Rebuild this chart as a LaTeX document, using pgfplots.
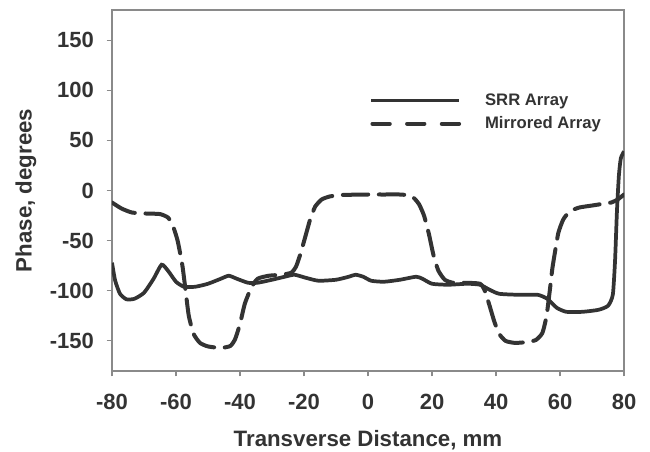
\documentclass[border=0pt]{standalone}
\usepackage{pgfplots}
\pgfplotsset{compat=1.18}
\usepackage{fontspec}
\setmainfont{Liberation Sans}

\definecolor{curve}{HTML}{333333}
\definecolor{frame}{HTML}{8A8A8A}
\definecolor{txt}{HTML}{333333}

% SRR array phase profile
\pgfplotstableread{
x y
-80 -72
-79 -90
-77.5 -103
-75.5 -108.5
-73 -108
-70 -102
-67 -88
-64.5 -74
-62.5 -80
-60 -91
-57.5 -96
-54 -96
-50 -93
-46 -88
-43.5 -85
-41 -88
-37.5 -92
-34.5 -92
-30 -89
-26 -86
-23 -84
-19.5 -87
-15.5 -90
-10 -89
-6 -86
-3.9 -84
-1.5 -86
1 -90
5 -91
10 -89
15 -86
17 -88
20 -93
25 -94
31 -93
35 -94
38 -99
41 -103
47 -104
53 -104
56 -108
59 -117
62 -121
67 -121
72 -119
75 -115
76.5 -104
77.2 -70
77.8 -20
78.4 15
79 32
80 39
}\srr

% Mirrored array phase profile
\pgfplotstableread{
x y
-80 -12
-77 -18
-73.7 -22
-69 -23
-65 -23.5
-62.5 -27
-61 -35
-59.5 -50
-58 -75
-57 -100
-56 -125
-54.5 -143
-52.5 -152
-50 -155.5
-46 -157
-43 -155
-41.5 -148
-40 -133
-38.5 -113
-36.5 -97
-34.5 -88
-31 -85
-27 -84
-24 -82
-22.5 -76
-21 -62
-19.5 -45
-18 -28
-16.5 -16
-14.5 -9
-12 -6
-8.5 -4.5
0 -4
5 -4
10 -4
13 -5
14.5 -8
16 -14
17.5 -25
19 -43
20.5 -65
22 -80
24 -89
26.5 -92
30 -92
35 -93
36.5 -100
38 -115
39.5 -131
41 -143
43 -150
46 -152
50 -151
52.5 -149
54.5 -142
55.8 -125
56.8 -100
57.6 -78
58.5 -60
59.5 -42
61 -29
63 -21
66 -17
70 -15
74 -13
76 -12
78 -9
80 -4
}\mirrored

\begin{document}
\begin{tikzpicture}
\path[use as bounding box] (0,0) rectangle (487.5pt,339pt);
\begin{axis}[
  at={(84pt,60.75pt)}, anchor=south west,
  scale only axis,
  width=384pt, height=270.75pt,
  xmin=-80, xmax=80, ymin=-180, ymax=180,
  xtick={-80,-60,...,80},
  ytick={-150,-100,...,150},
  axis line style={frame, line width=0.8pt},
  tick style={frame, line width=0.8pt},
  tick align=outside,
  major tick length=4pt,
  xtick pos=bottom, ytick pos=left,
  /pgf/number format/assume math mode=true,
  ticklabel style={font=\bfseries\fontsize{16.5}{16.5}\selectfont, text=txt},
  xticklabel style={yshift=-10pt},
  yticklabel style={xshift=-6pt},
  xlabel={Transverse Distance, mm},
  ylabel={Phase, degrees},
  label style={font=\bfseries\fontsize{16.7}{17}\selectfont, text=txt},
  xlabel style={at={(axis description cs:0.5,-0.2105)}, anchor=base},
  ylabel style={at={(axis description cs:-0.168,0.5)}, anchor=center},
  legend cell align=left,
  legend style={at={(axis cs:0.3,78)}, anchor=west, draw=none, fill=none,
    inner sep=0pt, row sep=3pt,
    font=\bfseries\fontsize{12.5}{13}\selectfont, text=txt,
    /tikz/every odd column/.append style={column sep=16pt}},
]
\addplot[curve, line width=2.8pt, smooth, tension=0.35,
  legend image code/.code={\draw[curve, line width=2.8pt] (0pt,0pt) -- (66pt,0pt);}]
  table {\srr};
\addlegendentry{SRR Array}
\addplot[curve, line width=3pt, smooth, tension=0.35, line cap=round,
  dash pattern=on 19pt off 8pt,
  legend image code/.code={\draw[curve, line width=3pt, line cap=round, dash pattern=on 13pt off 13pt] (1pt,0pt) -- (66pt,0pt);}]
  table {\mirrored};
\addlegendentry{Mirrored Array}
\end{axis}
\end{tikzpicture}
\end{document}
